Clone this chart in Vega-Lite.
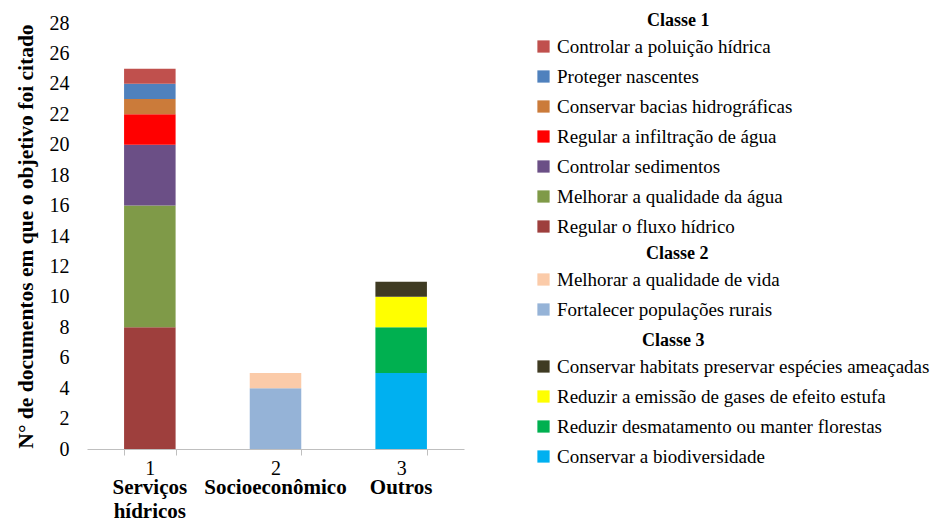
{
  "$schema": "https://vega.github.io/schema/vega-lite/v6.json",
  "width": 377,
  "height": 426,
  "padding": {"left": 15, "top": 12, "right": 5, "bottom": 0},
  "background": "white",
  "config": {
    "font": "Times New Roman, Liberation Serif, DejaVu Serif, serif",
    "view": {"stroke": null},
    "legend": {
      "labelFont": "Times New Roman, Liberation Serif, DejaVu Serif, serif",
      "labelFontSize": 19,
      "labelColor": "#000000",
      "titleFont": "Times New Roman, Liberation Serif, DejaVu Serif, serif",
      "titleFontSize": 18,
      "titleFontWeight": "bold",
      "titleColor": "#000000",
      "symbolType": "square",
      "symbolSize": 150,
      "symbolStrokeWidth": 0,
      "rowPadding": 10,
      "titlePadding": 7,
      "labelOffset": 4,
      "labelLimit": 500,
      "padding": 0
    }
  },
  "data": {
    "values": [
      {"grupo": "Serviços hídricos", "classe": "1", "objetivo": "Regular o fluxo hídrico", "n": 8, "ordem": 1},
      {"grupo": "Serviços hídricos", "classe": "1", "objetivo": "Melhorar a qualidade da água", "n": 8, "ordem": 2},
      {"grupo": "Serviços hídricos", "classe": "1", "objetivo": "Controlar sedimentos", "n": 4, "ordem": 3},
      {"grupo": "Serviços hídricos", "classe": "1", "objetivo": "Regular a infiltração de água", "n": 2, "ordem": 4},
      {"grupo": "Serviços hídricos", "classe": "1", "objetivo": "Conservar bacias hidrográficas", "n": 1, "ordem": 5},
      {"grupo": "Serviços hídricos", "classe": "1", "objetivo": "Proteger nascentes", "n": 1, "ordem": 6},
      {"grupo": "Serviços hídricos", "classe": "1", "objetivo": "Controlar a poluição hídrica", "n": 1, "ordem": 7},
      {"grupo": "Socioeconômico", "classe": "2", "objetivo": "Fortalecer populações rurais", "n": 4, "ordem": 1},
      {"grupo": "Socioeconômico", "classe": "2", "objetivo": "Melhorar a qualidade de vida", "n": 1, "ordem": 2},
      {"grupo": "Outros", "classe": "3", "objetivo": "Conservar a biodiversidade", "n": 5, "ordem": 1},
      {"grupo": "Outros", "classe": "3", "objetivo": "Reduzir desmatamento ou manter florestas", "n": 3, "ordem": 2},
      {"grupo": "Outros", "classe": "3", "objetivo": "Reduzir a emissão de gases de efeito estufa", "n": 2, "ordem": 3},
      {"grupo": "Outros", "classe": "3", "objetivo": "Conservar habitats preservar espécies ameaçadas", "n": 1, "ordem": 4}
    ]
  },
  "encoding": {
    "y": {
      "field": "n",
      "type": "quantitative",
      "aggregate": "sum",
      "stack": "zero",
      "scale": {"domain": [0, 28], "nice": false},
      "axis": {
        "title": "N° de documentos em que o objetivo foi citado",
        "titleFontSize": 21.5,
        "titleFontWeight": "bold",
        "titleColor": "#000000",
        "titlePadding": 12,
        "values": [0, 2, 4, 6, 8, 10, 12, 14, 16, 18, 20, 22, 24, 26, 28],
        "labelFontSize": 20,
        "labelColor": "#000000",
        "labelPadding": 18,
        "ticks": false,
        "domain": false,
        "grid": false
      }
    },
    "order": {"field": "ordem", "type": "quantitative", "sort": "ascending"}
  },
  "layer": [
    {
      "transform": [{"filter": "datum.classe == '1'"}],
      "mark": {"type": "bar"},
      "encoding": {
        "x": {
          "field": "grupo",
          "type": "nominal",
          "scale": {"domain": ["Serviços hídricos", "Socioeconômico", "Outros"], "paddingInner": 0.59, "paddingOuter": 0.295},
          "axis": {
            "title": null,
            "orient": "bottom",
            "labelExpr": "datum.value == 'Serviços hídricos' ? '1' : datum.value == 'Socioeconômico' ? '2' : datum.value == 'Outros' ? '3' : ''",
            "labelAngle": 0,
            "labelFontSize": 20,
            "labelColor": "#000000",
            "labelPadding": 3,
            "domainColor": "#BFBFBF",
            "tickColor": "#BFBFBF",
            "tickSize": 6,
            "tickBand": "extent",
            "grid": false
          }
        },
        "color": {
          "field": "objetivo",
          "type": "nominal",
          "scale": {
            "domain": ["Controlar a poluição hídrica", "Proteger nascentes", "Conservar bacias hidrográficas", "Regular a infiltração de água", "Controlar sedimentos", "Melhorar a qualidade da água", "Regular o fluxo hídrico"],
            "range": ["#C0504D", "#4F81BD", "#CB7B3A", "#FF0000", "#6B4F86", "#7F9A48", "#9E3F3D"]
          },
          "legend": {"title": "Classe 1", "orient": "none", "legendX": 447, "legendY": -11, "titleAnchor": "start", "encode": {"title": {"update": {"dx": {"value": 113}}}}}
        }
      }
    },
    {
      "transform": [{"filter": "datum.classe == '2'"}],
      "mark": {"type": "bar"},
      "encoding": {
        "x": {"field": "grupo", "type": "nominal", "axis": null},
        "color": {
          "field": "objetivo",
          "type": "nominal",
          "scale": {
            "domain": ["Melhorar a qualidade de vida", "Fortalecer populações rurais"],
            "range": ["#FBCBA9", "#95B3D7"]
          },
          "legend": {"title": "Classe 2", "orient": "none", "legendX": 447, "legendY": 222, "titleAnchor": "start", "encode": {"title": {"update": {"dx": {"value": 112}}}}}
        }
      }
    },
    {
      "transform": [{"filter": "datum.classe == '3'"}],
      "mark": {"type": "bar"},
      "encoding": {
        "x": {
          "field": "grupo",
          "type": "nominal",
          "axis": {
            "title": null,
            "orient": "bottom",
            "labelExpr": "datum.value == 'Serviços hídricos' ? ['Serviços', 'hídricos'] : datum.value",
            "labelAngle": 0,
            "labelFontSize": 21,
            "labelFontWeight": "bold",
            "labelColor": "#000000",
            "labelLineHeight": 24,
            "labelPadding": 27,
            "domain": false,
            "ticks": false,
            "grid": false
          }
        },
        "color": {
          "field": "objetivo",
          "type": "nominal",
          "scale": {
            "domain": ["Conservar habitats preservar espécies ameaçadas", "Reduzir a emissão de gases de efeito estufa", "Reduzir desmatamento ou manter florestas", "Conservar a biodiversidade"],
            "range": ["#3F3B23", "#FFFF00", "#00B050", "#00B0F0"]
          },
          "legend": {"title": "Classe 3", "orient": "none", "legendX": 447, "legendY": 309, "titleAnchor": "start", "encode": {"title": {"update": {"dx": {"value": 108}}}}}
        }
      }
    }
  ],
  "resolve": {"scale": {"color": "independent"}, "axis": {"x": "independent"}}
}
